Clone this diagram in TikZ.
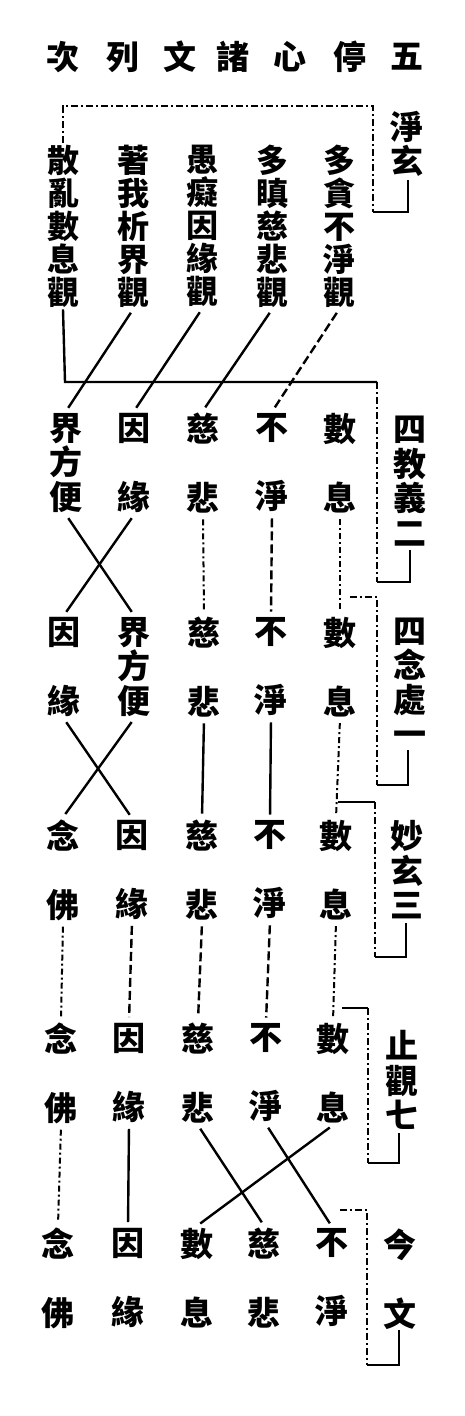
\documentclass[tikz,border=0pt]{standalone}
\usepackage{fontspec}
\newfontfamily\cjk{Noto Sans CJK TC}
\begin{document}
\begin{tikzpicture}[x=1pt,y=-1pt,
  txt/.style={font=\cjk\bfseries\fontsize{33}{34.5}\selectfont, align=center, inner sep=2pt},
  toptxt/.style={font=\cjk\bfseries\fontsize{32}{33}\selectfont, align=center, inner sep=2pt},
  ln/.style={line width=2.4pt, shorten <=4pt, shorten >=4pt},
  lndash/.style={ln, dash pattern=on 9pt off 4pt},
  lndot/.style={ln, line width=2pt, dash pattern=on 6pt off 3pt on 2pt off 3pt},
  brk/.style={line width=2pt, dash pattern=on 7pt off 3pt on 2pt off 3pt},
  brks/.style={line width=2.4pt}]
\useasboundingbox (0,0) rectangle (464,1416);
% header
\foreach \c/\x [count=\i] in {次/63,列/123,文/180,諸/233,心/290,停/350,五/407}
  \node[txt] (h\i) at (\x,57) {\c};
% row 1
\node[toptxt] (r1c1) at (63,226) {散\\亂\\數\\息\\觀};
\node[toptxt] (r1c2) at (133,226) {著\\我\\析\\界\\觀};
\node[toptxt] (r1c3) at (202,226) {愚\\癡\\因\\緣\\觀};
\node[toptxt] (r1c4) at (272,226) {多\\瞋\\慈\\悲\\觀};
\node[toptxt] (r1c5) at (339,226) {多\\貪\\不\\淨\\觀};
% row 2
\node[txt] (r2c1) at (66,463) {界\\方\\便};
\node[txt] (r2c2) at (134,463) {因\\\phantom{因}\\緣};
\node[txt] (r2c3) at (203,463) {慈\\\phantom{因}\\悲};
\node[txt] (r2c4) at (272,463) {不\\\phantom{因}\\淨};
\node[txt] (r2c5) at (340,463) {數\\\phantom{因}\\息};
% row 3
\node[txt] (r3c1) at (64,667) {因\\\phantom{因}\\緣};
\node[txt] (r3c2) at (134,667) {界\\方\\便};
\node[txt] (r3c3) at (204,667) {慈\\\phantom{因}\\悲};
\node[txt] (r3c4) at (271,667) {不\\\phantom{因}\\淨};
\node[txt] (r3c5) at (340,667) {數\\\phantom{因}\\息};
% row 4
\node[txt] (r4c1) at (63,870) {念\\\phantom{因}\\佛};
\node[txt] (r4c2) at (132,870) {因\\\phantom{因}\\緣};
\node[txt] (r4c3) at (202,870) {慈\\\phantom{因}\\悲};
\node[txt] (r4c4) at (270,870) {不\\\phantom{因}\\淨};
\node[txt] (r4c5) at (336,870) {數\\\phantom{因}\\息};
% row 5
\node[txt] (r5c1) at (61,1073) {念\\\phantom{因}\\佛};
\node[txt] (r5c2) at (129,1073) {因\\\phantom{因}\\緣};
\node[txt] (r5c3) at (198,1073) {慈\\\phantom{因}\\悲};
\node[txt] (r5c4) at (266,1073) {不\\\phantom{因}\\淨};
\node[txt] (r5c5) at (333,1073) {數\\\phantom{因}\\息};
% row 6
\node[txt] (r6c1) at (58,1278) {念\\\phantom{因}\\佛};
\node[txt] (r6c2) at (128,1278) {因\\\phantom{因}\\緣};
\node[txt] (r6c3) at (197,1278) {數\\\phantom{因}\\息};
\node[txt] (r6c4) at (264,1278) {慈\\\phantom{因}\\悲};
\node[txt] (r6c5) at (332,1278) {不\\\phantom{因}\\淨};
% labels
\node[txt] (l1) at (407,144) {淨\\玄};
\node[txt] (l2) at (410,481) {四\\教\\義\\二};
\node[txt] (l3) at (410,682) {四\\念\\處\\一};
\node[txt] (l4) at (407,870) {妙\\玄\\三};
\node[txt] (l5) at (402,1080) {止\\觀\\七};
\node[txt] (l6) at (400,1279) {今\\\phantom{因}\\文};
% bracket 1
\draw[brk] (r1c1.north) -- (63,106) -- (373,106) -- (373,212);
\draw[brks] (373,212) -- (408,212) -- (408,180);
% bracket 2
\draw[brks] (r1c1.south) -- (65,382) -- (377,382);
\draw[brk] (377,382) -- (377,582);
\draw[brks] (377,582) -- (410,582) -- (410,550);
% bracket 3
\draw[brk] (350,597) -- (377,597) -- (377,785);
\draw[brks] (377,785) -- (408,785) -- (408,750);
% bracket 4
\draw[brks] (338,802) -- (375,802);
\draw[brk] (375,802) -- (375,957);
\draw[brks] (375,957) -- (406,957) -- (406,923);
% bracket 5
\draw[brks] (342,1008) -- (368,1008);
\draw[brk] (368,1008) -- (368,1163);
\draw[brks] (368,1163) -- (399,1163) -- (399,1133);
% bracket 6
\draw[brk] (340,1210) -- (367,1210) -- (367,1365);
\draw[brks] (367,1365) -- (399,1365) -- (399,1330);
% row 1 -> 2
\draw[lndash] (r1c5.south) -- (r2c4.north);
\draw[ln] (r1c4.south) -- (r2c3.north);
\draw[ln] (r1c3.south) -- (r2c2.north);
\draw[ln] (r1c2.south) -- (r2c1.north);
% row 2 -> 3
\draw[ln] (r2c1.south) -- (r3c2.north);
\draw[ln] (r2c2.south) -- (r3c1.north);
\draw[lndot] (r2c3.south) -- (r3c3.north);
\draw[lndash] (r2c4.south) -- (r3c4.north);
\draw[lndot] (r2c5.south) -- (r3c5.north);
% row 3 -> 4
\draw[ln] (r3c1.south) -- (r4c2.north);
\draw[ln] (r3c2.south) -- (r4c1.north);
\draw[ln] (r3c3.south) -- (r4c3.north);
\draw[ln] (r3c4.south) -- (r4c4.north);
\draw[lndot] (r3c5.south) -- (r4c5.north);
% row 4 -> 5
\draw[lndot] (r4c1.south) -- (r5c1.north);
\draw[lndash] (r4c2.south) -- (r5c2.north);
\draw[lndash] (r4c3.south) -- (r5c3.north);
\draw[lndash] (r4c4.south) -- (r5c4.north);
\draw[lndot] (r4c5.south) -- (r5c5.north);
% row 5 -> 6
\draw[lndot] (r5c1.south) -- (r6c1.north);
\draw[ln] (r5c2.south) -- (r6c2.north);
\draw[ln] (r5c3.south) -- (r6c4.north);
\draw[ln] (r5c4.south) -- (r6c5.north);
\draw[ln] (r5c5.south) -- (r6c3.north);
\end{tikzpicture}
\end{document}
